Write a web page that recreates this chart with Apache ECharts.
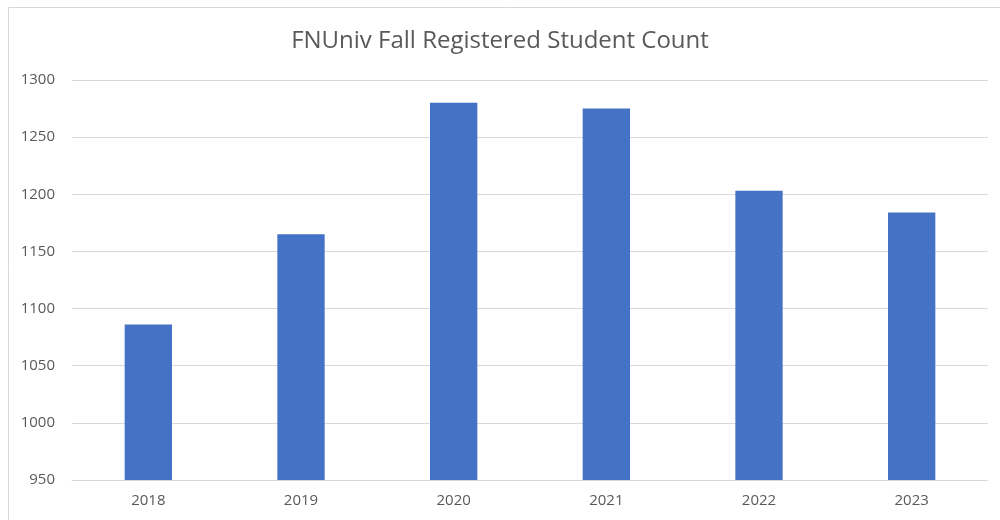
<!DOCTYPE html>
<html>
  <head>
    <meta charset="utf-8" />
    <script src="https://cdn.jsdelivr.net/npm/echarts@6/dist/echarts.min.js"></script>
    <title>FNUniv Fall Registered Student Count</title>
    <style type="text/css">
      body { margin: 0; background: #fff; }
      #demo { width: 1000px; height: 520px; }
    </style>
  </head>
  <body>
    <div id="demo"></div>
    <script type="text/javascript">
      // data
      var years = ['2018', '2019', '2020', '2021', '2022', '2023']
      var students = [1086, 1165, 1280, 1275, 1203, 1184]
      var yTicks = { min: 950, max: 1300, step: 50 }

      var font = "Open Sans, Lato, sans-serif"
      var chart = echarts.init(document.getElementById('demo'))
      chart.setOption({
        backgroundColor: '#fff',
        animation: false,
        graphic: [
          {
            type: 'rect',
            shape: { x: 8.5, y: 7.5, width: 1000, height: 520 },
            style: { fill: 'none', stroke: '#d9d9d9', lineWidth: 1 }
          }
        ],
        title: {
          text: 'FNUniv Fall Registered Student Count',
          left: 'center',
          top: 24,
          textStyle: { fontFamily: font, fontSize: 24, fontWeight: 'normal', color: '#595959' }
        },
        grid: { left: 72, right: 12, top: 80, bottom: 40, containLabel: false },
        xAxis: {
          type: 'category',
          data: years,
          axisTick: { show: false },
          axisLine: { lineStyle: { color: '#d9d9d9', width: 1 } },
          axisLabel: { color: '#595959', fontFamily: font, fontSize: 15, margin: 13 }
        },
        yAxis: {
          type: 'value',
          min: yTicks.min,
          max: yTicks.max,
          interval: yTicks.step,
          axisLine: { show: false },
          axisTick: { show: false },
          axisLabel: {
            color: '#595959', fontFamily: font, fontSize: 15, margin: 17,
            formatter: function (v) { return String(v) }
          },
          splitLine: { lineStyle: { color: '#d9d9d9', width: 1 } }
        },
        series: [
          {
            type: 'bar',
            data: students,
            barWidth: '31%',
            itemStyle: { color: '#4472c4' }
          }
        ]
      })
    </script>
  </body>
</html>
